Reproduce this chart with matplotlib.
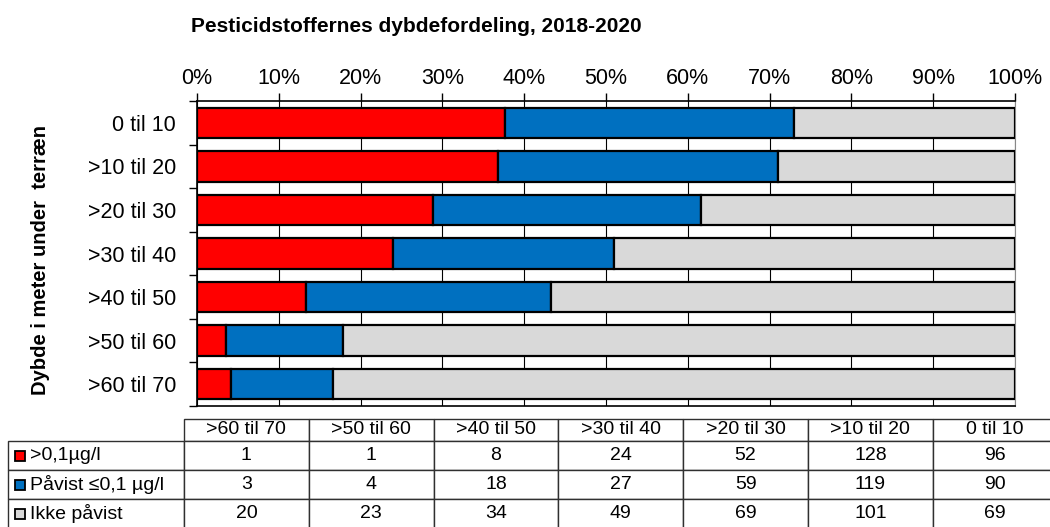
import matplotlib.pyplot as plt
import numpy as np
from matplotlib.table import Table
from matplotlib.patches import Rectangle

plt.rcParams['font.family'] = ['Liberation Sans', 'DejaVu Sans']

# data
depths = ['0 til 10', '>10 til 20', '>20 til 30', '>30 til 40', '>40 til 50', '>50 til 60', '>60 til 70']
series_names = ['>0,1µg/l', 'Påvist ≤0,1 µg/l', 'Ikke påvist']
over_01 = [96, 128, 52, 24, 8, 1, 1]
paavist = [90, 119, 59, 27, 18, 4, 3]
ikke_paavist = [69, 101, 69, 49, 34, 23, 20]
colors = ['#FF0000', '#0070C0', '#D9D9D9']

counts = np.array([over_01, paavist, ikke_paavist], dtype=float)
pct = counts / counts.sum(axis=0) * 100

W, H = 1050, 527
fig = plt.figure(figsize=(W / 100, H / 100), dpi=100)

fig.text(416 / W, 1 - 26 / H, 'Pesticidstoffernes dybdefordeling, 2018-2020',
         ha='center', va='center', fontsize=15, weight='bold')

# bars
ax = fig.add_axes([197 / W, 121 / H, 818 / W, 305 / H])
y = np.arange(len(depths))
left = np.zeros(len(depths))
for i in range(3):
    ax.barh(y, pct[i], left=left, height=0.7, color=colors[i],
            edgecolor='black', linewidth=1.6, zorder=3)
    left += pct[i]

ax.set_xlim(0, 100)
ax.set_ylim(len(depths) - 0.5, -0.5)
ax.xaxis.tick_top()
ax.set_xticks(np.arange(0, 101, 10))
ax.set_xticklabels([f'{v}%' for v in range(0, 101, 10)])
ax.tick_params(axis='x', direction='out', length=6, width=1, pad=3, labelsize=15.5)
ax.grid(axis='x', color='black', linewidth=0.8, zorder=0)
ax.set_axisbelow(True)

ax.set_yticks(np.arange(-0.5, len(depths), 1))
ax.set_yticklabels([])
ax.tick_params(axis='y', which='major', direction='out', length=6, width=1)
ax.set_yticks(y, minor=True)
ax.set_yticklabels(depths, minor=True)
ax.tick_params(axis='y', which='minor', length=0, pad=15, labelsize=15.5)

for s in ['top', 'left', 'bottom']:
    ax.spines[s].set_linewidth(1.2)
ax.spines['right'].set_color('#888888')

fig.text(40 / W, 1 - 260 / H, 'Dybde i meter under  terræn', rotation=90,
         ha='center', va='center', fontsize=14.5, weight='bold')

# data table
label_w, col_w = 176, 124.8
tw = label_w + col_w * len(depths)
row_h = [22, 29, 29, 29]
th = sum(row_h)
tax = fig.add_axes([8 / W, (H - 419 - th) / H, tw / W, th / H])
tax.set_xlim(0, tw)
tax.set_ylim(th, 0)
tax.axis('off')

tbl = Table(tax, bbox=[0, 0, 1, 1])
tbl.auto_set_font_size(False)
cols = depths[::-1]
corner = tbl.add_cell(0, 0, width=label_w, height=row_h[0], text='')
corner.visible_edges = ''
for j, d in enumerate(cols):
    tbl.add_cell(0, j + 1, width=col_w, height=row_h[0], text=d, loc='center')
for i, name in enumerate(series_names):
    c = tbl.add_cell(i + 1, 0, width=label_w, height=row_h[i + 1], text=name, loc='left')
    c.PAD = 22 / label_w
    vals = counts[i][::-1]
    for j, v in enumerate(vals):
        tbl.add_cell(i + 1, j + 1, width=col_w, height=row_h[i + 1], text=str(int(v)), loc='center')
for cell in tbl.get_celld().values():
    cell.set_edgecolor('#303030')
    cell.set_linewidth(1)
    cell.get_text().set_fontsize(14)
tax.add_table(tbl)

ytop = row_h[0]
for i in range(3):
    yc = ytop + row_h[i + 1] / 2
    tax.add_patch(Rectangle((7, yc - 5), 10, 10, facecolor=colors[i],
                            edgecolor='black', linewidth=1.3, zorder=5))
    ytop += row_h[i + 1]

fig.savefig('out.png', dpi=100)
